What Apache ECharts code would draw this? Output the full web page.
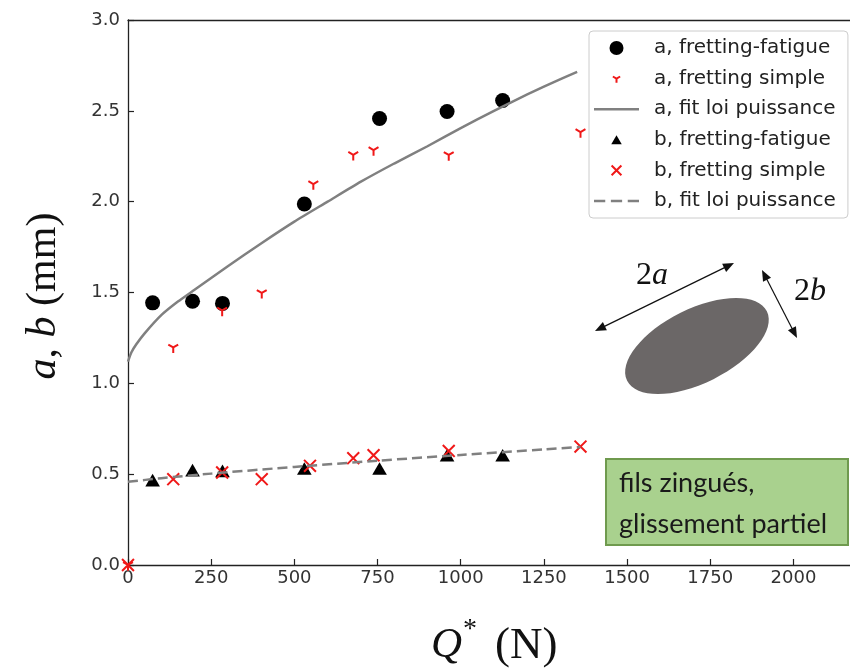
<!DOCTYPE html>
<html>
<head>
<meta charset="utf-8">
<script src="https://cdn.jsdelivr.net/npm/echarts@6/dist/echarts.min.js"></script>
<style>
html,body{margin:0;padding:0;background:#fff;}
#chart{width:850px;height:671px;}
</style>
</head>
<body>
<div id="chart"></div>
<script>
// ---- data ----
// a, fretting-fatigue (black circles) : [Q*, a]
var aFatigueQ = [74, 194, 284, 530, 756, 959, 1126];
var aFatigueV = [1.443, 1.452, 1.440, 1.987, 2.458, 2.496, 2.557];
// a, fretting simple (red Y markers)
var aSimpleQ = [0, 136, 283, 402, 557, 677, 738, 964, 1360];
var aSimpleV = [0.0, 1.198, 1.401, 1.498, 2.097, 2.258, 2.284, 2.257, 2.383];
// a, fit loi puissance (grey solid curve)
var aFitQ = [0, 10, 25, 50, 100, 150, 200, 300, 400, 500, 600, 700, 800, 900, 1000, 1100, 1200, 1300, 1350];
var aFitV = [1.12, 1.17, 1.215, 1.275, 1.375, 1.45, 1.515, 1.645, 1.77, 1.89, 2.0, 2.11, 2.21, 2.305, 2.405, 2.5, 2.59, 2.675, 2.715];
// b, fretting-fatigue (black triangles)
var bFatigueQ = [74, 194, 284, 530, 756, 959, 1126];
var bFatigueV = [0.467, 0.522, 0.518, 0.531, 0.531, 0.604, 0.604];
// b, fretting simple (red x)
var bSimpleQ = [0, 136, 283, 402, 547, 677, 738, 964, 1360];
var bSimpleV = [0.0, 0.4725, 0.509, 0.4725, 0.546, 0.588, 0.604, 0.628, 0.652];
// b, fit loi puissance (grey dashed)
var bFitQ = [0, 100, 250, 500, 750, 1000, 1250, 1360];
var bFitV = [0.458, 0.478, 0.503, 0.54, 0.574, 0.606, 0.636, 0.65];

var seriesNames = ['a, fretting-fatigue', 'a, fretting simple', 'a, fit loi puissance',
                   'b, fretting-fatigue', 'b, fretting simple', 'b, fit loi puissance'];
var xTicks = [0, 250, 500, 750, 1000, 1250, 1500, 1750, 2000];
var yTicks = [0.0, 0.5, 1.0, 1.5, 2.0, 2.5, 3.0];

function pairs(xs, ys) { return xs.map(function (x, i) { return [x, ys[i]]; }); }

// ---- symbols ----
var RED = '#f01818';
var GREY = '#808080';
var symY = 'path://M-10,-10M10,10M0,0L0,6M0,0L-5.2,-3M0,0L5.2,-3';
var symX = 'path://M-10,-10M10,10M-7,-7L7,7M-7,7L7,-7';
var symTri = 'path://M-10,-10M10,10M0,-6.5L7.5,6.5L-7.5,6.5Z';
var iconSolid = 'path://M0,0h44v2.5h-44z';
var iconDashed = 'path://M0,0h11v2.5h-11zM16.5,0h11v2.5h-11zM33,0h11v2.5h-11z';

var chart = echarts.init(document.getElementById('chart'), null, {renderer: 'canvas'});

// arrow helper for the annotation drawing
function arrow(x1, y1, x2, y2) {
  var L = 11, W = 9;
  var dx = x2 - x1, dy = y2 - y1, d = Math.sqrt(dx * dx + dy * dy);
  var ux = dx / d, uy = dy / d, nx = -uy, ny = ux;
  function head(tx, ty, sx, sy) {
    var bx = tx - sx * L, by = ty - sy * L;
    return {type: 'polygon', shape: {points: [[tx, ty], [bx + nx * W / 2, by + ny * W / 2], [bx - nx * W / 2, by - ny * W / 2]]},
            style: {fill: '#111'}, silent: true};
  }
  return [
    {type: 'line', shape: {x1: x1 + ux * L * 0.8, y1: y1 + uy * L * 0.8, x2: x2 - ux * L * 0.8, y2: y2 - uy * L * 0.8},
     style: {stroke: '#111', lineWidth: 1.2}, silent: true},
    head(x2, y2, ux, uy),
    head(x1, y1, -ux, -uy)
  ];
}

var graphics = [
  // y-axis title
  {type: 'text', x: 44, y: 296, rotation: Math.PI / 2, silent: true,
   style: {text: '{i|a}{u|, }{i|b}{u| (mm)}', align: 'center', verticalAlign: 'middle', fill: '#111',
     rich: {i: {fontFamily: 'Liberation Serif', fontStyle: 'italic', fontSize: 42, fill: '#111'},
            u: {fontFamily: 'Liberation Serif', fontSize: 42, fill: '#111'}}}},
  // x-axis title
  {type: 'text', x: 431, y: 646, silent: true,
   style: {text: 'Q', font: 'italic 43px "Liberation Serif"', fill: '#111', align: 'left', verticalAlign: 'middle'}},
  {type: 'text', x: 463, y: 630, silent: true,
   style: {text: '*', font: '28px "Liberation Serif"', fill: '#111', align: 'left', verticalAlign: 'middle'}},
  {type: 'text', x: 495, y: 646, silent: true,
   style: {text: '(N)', font: '45px "Liberation Serif"', fill: '#111', align: 'left', verticalAlign: 'middle'}},
  // ellipse sketch
  {type: 'ellipse', x: 697, y: 346, rotation: 26.4 * Math.PI / 180, shape: {cx: 0, cy: 0, rx: 78, ry: 37},
   style: {fill: '#6b6767'}, silent: true},
  // labels 2a, 2b
  {type: 'text', x: 652, y: 276, silent: true,
   style: {text: '{u|2}{i|a}', align: 'center', verticalAlign: 'middle',
     rich: {i: {fontFamily: 'Liberation Serif', fontStyle: 'italic', fontSize: 32, fill: '#111'},
            u: {fontFamily: 'Liberation Serif', fontSize: 32, fill: '#111'}}}},
  {type: 'text', x: 810, y: 292, silent: true,
   style: {text: '{u|2}{i|b}', align: 'center', verticalAlign: 'middle',
     rich: {i: {fontFamily: 'Liberation Serif', fontStyle: 'italic', fontSize: 32, fill: '#111'},
            u: {fontFamily: 'Liberation Serif', fontSize: 32, fill: '#111'}}}},
  // green box
  {type: 'rect', shape: {x: 606, y: 459, width: 242, height: 86},
   style: {fill: '#a9d18e', stroke: '#6f9a4e', lineWidth: 2}, silent: true},
  {type: 'text', x: 619, y: 483, silent: true,
   style: {text: 'fils zingués,', font: '27px Lato', fill: '#1a1a1a', align: 'left', verticalAlign: 'middle'}},
  {type: 'text', x: 619, y: 524, silent: true,
   style: {text: 'glissement partiel', font: '27px Lato', fill: '#1a1a1a', align: 'left', verticalAlign: 'middle'}}
];
graphics = graphics.concat(arrow(595, 331, 734, 263)).concat(arrow(762, 270, 797, 338));

var axisColor = '#222';
var labelStyle = {color: '#333', fontFamily: 'DejaVu Sans', fontSize: 18};

var option = {
  animation: false,
  backgroundColor: '#fff',
  grid: {left: 128, top: 20, right: 0, bottom: 106, outerBoundsMode: 'none', containLabel: false},
  legend: {
    orient: 'vertical', left: 589, top: 31,
    data: [
      {name: seriesNames[0]},
      {name: seriesNames[1]},
      {name: seriesNames[2], icon: iconSolid},
      {name: seriesNames[3]},
      {name: seriesNames[4]},
      {name: seriesNames[5], icon: iconDashed}
    ],
    itemWidth: 45, itemHeight: 14, itemGap: 8.6,
    padding: [6, 12, 6, 5],
    backgroundColor: 'rgba(255,255,255,0.85)', borderColor: '#cccccc', borderWidth: 1, borderRadius: 4,
    textStyle: {color: '#222', fontFamily: 'DejaVu Sans', fontSize: 20, lineHeight: 22, padding: [0, 0, 0, 10]}
  },
  xAxis: [{
    type: 'value', min: 0, max: 2170, interval: 250,
    axisLine: {show: true, onZero: false, lineStyle: {color: axisColor, width: 1.3}},
    axisTick: {show: true, inside: true, length: 6, lineStyle: {color: axisColor, width: 1.2}},
    axisLabel: Object.assign({margin: 4, showMaxLabel: false,
      formatter: function (v) { return xTicks.indexOf(v) >= 0 ? String(v) : ''; }}, labelStyle),
    splitLine: {show: false}
  }, {
    type: 'value', position: 'top', min: 0, max: 2170,
    axisLine: {show: true, onZero: false, lineStyle: {color: axisColor, width: 1.3}},
    axisTick: {show: false}, axisLabel: {show: false}, splitLine: {show: false}
  }],
  yAxis: {
    type: 'value', min: 0, max: 3, interval: 0.5,
    axisLine: {show: true, onZero: false, lineStyle: {color: axisColor, width: 1.3}},
    axisTick: {show: true, inside: true, length: 6, lineStyle: {color: axisColor, width: 1.2}},
    axisLabel: Object.assign({margin: 8,
      formatter: function (v) { return yTicks.indexOf(v) >= 0 ? v.toFixed(1) : ''; }}, labelStyle),
    splitLine: {show: false}
  },
  graphic: graphics,
  series: [
    {name: seriesNames[0], type: 'scatter', data: pairs(aFatigueQ, aFatigueV),
     symbol: 'circle', symbolSize: 15, itemStyle: {color: '#000', opacity: 1}},
    {name: seriesNames[1], type: 'scatter', data: pairs(aSimpleQ, aSimpleV),
     symbol: symY, symbolSize: 19, itemStyle: {color: RED, borderColor: RED, borderWidth: 2, opacity: 1}},
    {name: seriesNames[2], type: 'line', data: pairs(aFitQ, aFitV), symbol: 'none', smooth: 0.2,
     lineStyle: {color: GREY, width: 2.5}, itemStyle: {color: GREY}},
    {name: seriesNames[3], type: 'scatter', data: pairs(bFatigueQ, bFatigueV),
     symbol: symTri, symbolSize: 19.5, itemStyle: {color: '#000', opacity: 1}},
    {name: seriesNames[4], type: 'scatter', data: pairs(bSimpleQ, bSimpleV),
     symbol: symX, symbolSize: 17, itemStyle: {color: RED, borderColor: RED, borderWidth: 2, opacity: 1}},
    {name: seriesNames[5], type: 'line', data: pairs(bFitQ, bFitV), symbol: 'none', smooth: 0.2,
     lineStyle: {color: GREY, width: 2.5, type: [10, 5]}, itemStyle: {color: GREY}}
  ]
};
chart.setOption(option);
</script>
</body>
</html>
